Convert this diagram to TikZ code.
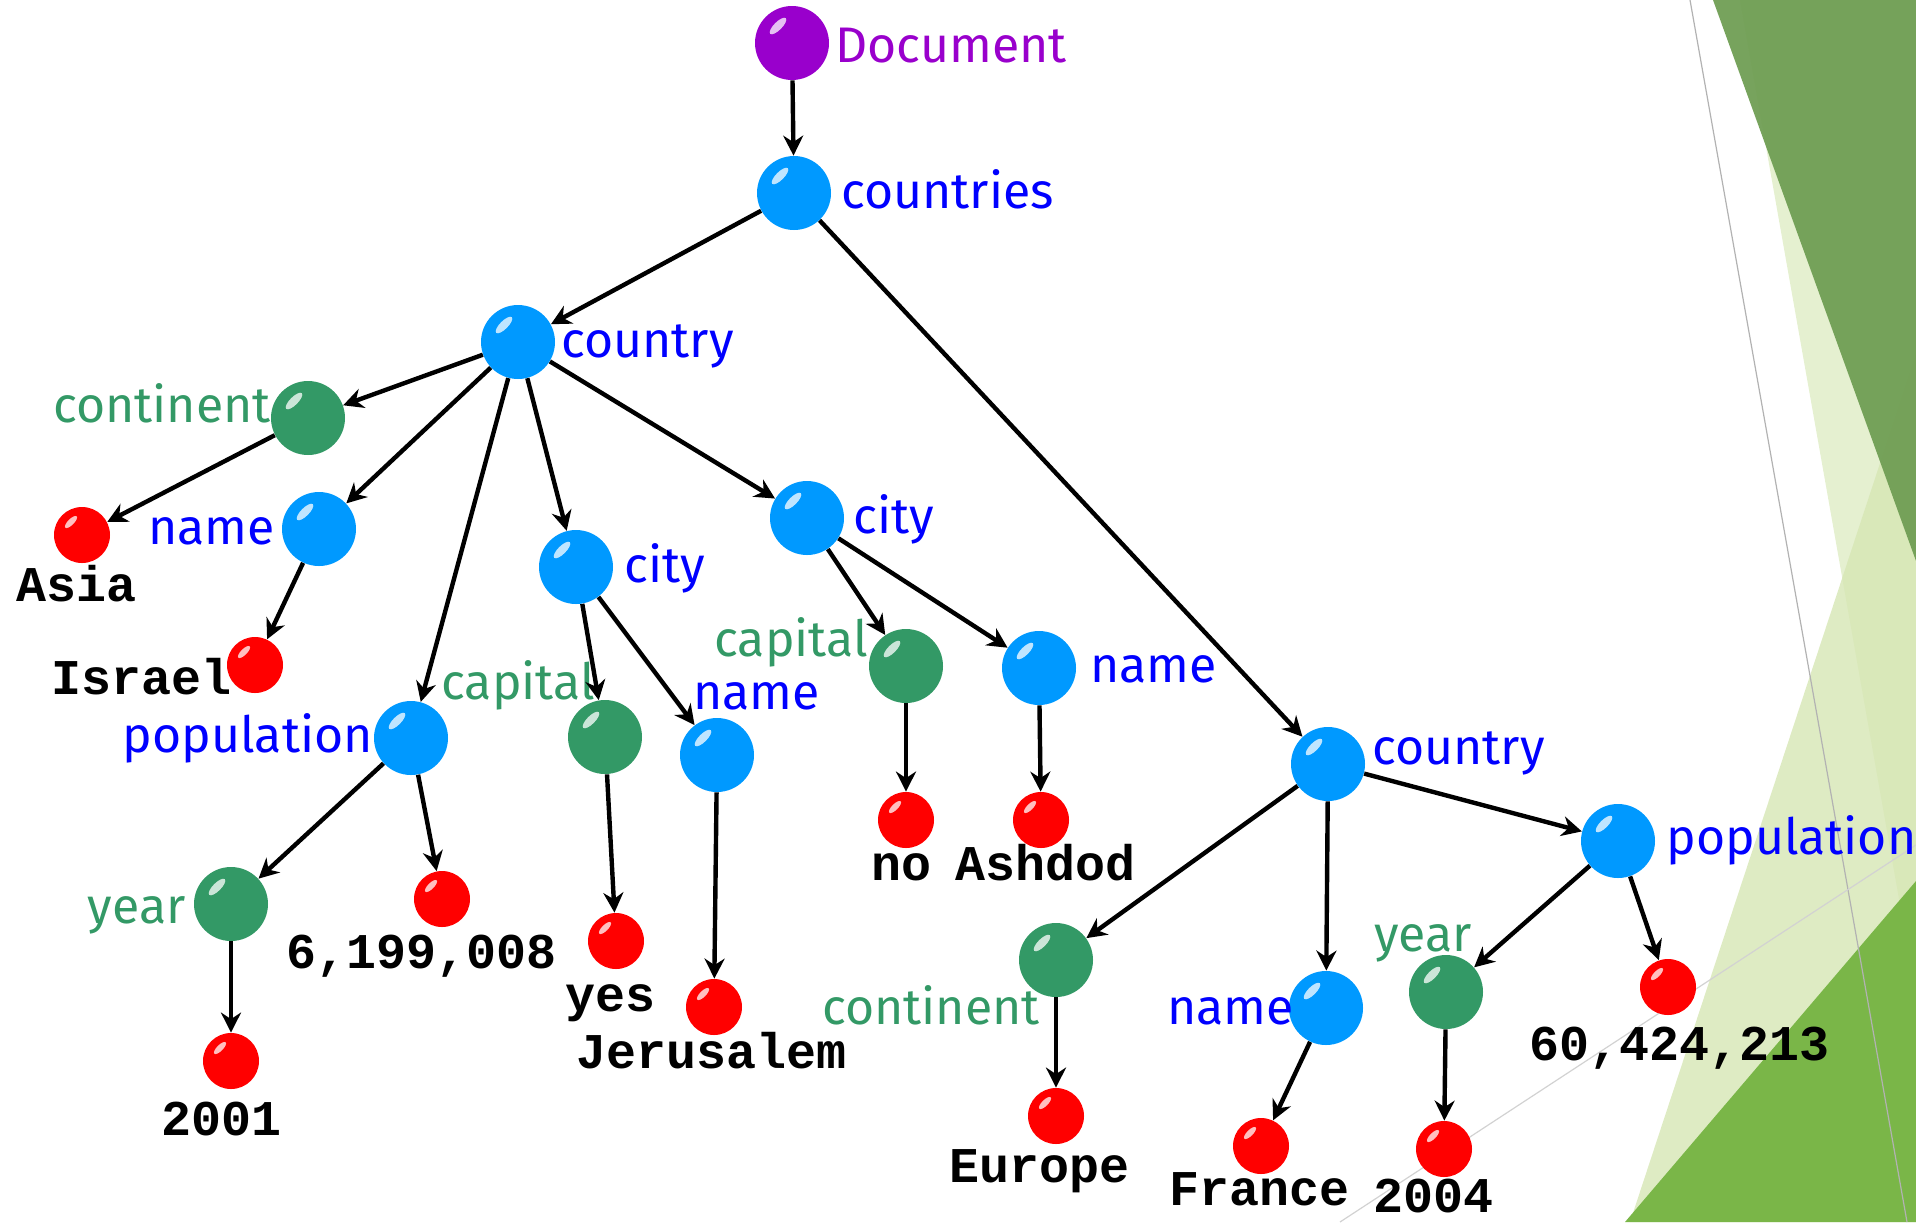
\documentclass[tikz,border=0pt]{standalone}
\usepackage{fontspec}
\setmainfont{Fira Sans}
\newfontfamily\valfont{Liberation Mono}
\usetikzlibrary{arrows.meta}

\definecolor{ballblue}{RGB}{0,153,255}
\definecolor{ballgreen}{RGB}{51,153,102}
\definecolor{ballred}{RGB}{255,0,0}
\definecolor{ballpurple}{RGB}{153,0,204}
\definecolor{txtblue}{RGB}{0,0,255}
\definecolor{leafdark}{RGB}{112,158,84}
\definecolor{leafpale}{RGB}{229,240,208}
\definecolor{leaflight}{RGB}{214,230,180}
\definecolor{leafbright}{RGB}{122,182,72}

\tikzstyle{ball}=[circle,inner sep=0pt,minimum size=37pt,
  path picture={\fill[white,opacity=.75] ([xshift=-7pt,yshift=8.5pt]path picture bounding box.center) circle[x radius=5.5pt,y radius=2pt,rotate=45];}]
\tikzstyle{dot}=[circle,inner sep=0pt,minimum size=28pt,fill=ballred,
  path picture={\fill[white,opacity=.75] ([xshift=-5.5pt,yshift=6.5pt]path picture bounding box.center) circle[x radius=4pt,y radius=1.5pt,rotate=45];}]
\tikzstyle{bluenode}=[ball,fill=ballblue]
\tikzstyle{greennode}=[ball,fill=ballgreen]
\tikzstyle{tag}=[font=\fontsize{25}{30}\selectfont,inner sep=0pt]
\tikzstyle{bluetag}=[tag,text=txtblue]
\tikzstyle{greentag}=[tag,text=ballgreen]
\tikzstyle{value}=[font=\valfont\bfseries\fontsize{25}{28}\selectfont,inner sep=0pt,anchor=base]
\tikzstyle{arr}=[-{Stealth[length=10pt,width=10pt]},line width=2.2pt]

\begin{document}
\begin{tikzpicture}[x=0.5pt,y=-0.5pt]
\useasboundingbox (0,0) rectangle (1916,1222);

% background leaves
\fill[leafpale] (1740,0) -- (1916,0) -- (1916,995) -- cycle;
\fill[leaflight,opacity=.8] (1630,1222) -- (1916,354) -- (1916,1222) -- cycle;
\fill[leafdark,opacity=.95] (1713,0) -- (1916,0) -- (1916,561) -- cycle;
\fill[leafbright] (1625,1222) -- (1916,881) -- (1916,1222) -- cycle;
\draw[gray!60,line width=0.6pt] (1690,0) -- (1907,1222);
\draw[gray!35,line width=0.6pt] (1340,1222) -- (1916,845);

% tree
\node[ball,fill=ballpurple] (doc) at (792,43) {};
\node[bluenode] (countries) at (794,193) {};
\node[bluenode] (country1) at (518,342) {};
\node[greennode] (cont1) at (308,418) {};
\node[dot] (asia) at (82,535) {};
\node[bluenode] (name1) at (319,529) {};
\node[dot] (israel) at (255,665) {};
\node[bluenode] (pop1) at (411,738) {};
\node[greennode] (year1) at (231,904) {};
\node[dot] (y2001) at (231,1061) {};
\node[dot] (num1) at (442,899) {};
\node[bluenode] (city1) at (576,567) {};
\node[greennode] (cap1) at (605,737) {};
\node[dot] (yes) at (616,941) {};
\node[bluenode] (name2) at (717,755) {};
\node[dot] (jerus) at (714,1007) {};
\node[bluenode] (city2) at (807,518) {};
\node[greennode] (cap2) at (906,666) {};
\node[dot] (no) at (906,820) {};
\node[bluenode] (name3) at (1039,668) {};
\node[dot] (ashdod) at (1041,820) {};
\node[bluenode] (country2) at (1328,764) {};
\node[greennode] (cont2) at (1056,960) {};
\node[dot] (europe) at (1056,1116) {};
\node[bluenode] (name4) at (1326,1008) {};
\node[dot] (france) at (1261,1146) {};
\node[bluenode] (pop2) at (1618,841) {};
\node[greennode] (year2) at (1446,992) {};
\node[dot] (y2004) at (1444,1149) {};
\node[dot] (num2) at (1668,987) {};

% element names
\node[tag,text=ballpurple,anchor=base west] (ldoc) at (835,62) {Document};
\node[bluetag,anchor=base west] (lcountries) at (841,208) {countries};
\node[bluetag,anchor=base west] (lcountry1) at (561,357) {country};
\node[greentag,anchor=base east] (lcont1) at (271,422) {continent};
\node[bluetag,anchor=base east] (lname1) at (275,544) {name};
\node[bluetag,anchor=base east] (lpop1) at (373,752) {population};
\node[greentag,anchor=base east] (lyear1) at (186,923) {year};
\node[greentag,anchor=base west] (lcap1) at (441,699) {capital};
\node[bluetag,anchor=base west] (lcity1) at (624,582) {city};
\node[bluetag,anchor=base west] (lname2) at (693,709) {name};
\node[bluetag,anchor=base west] (lcity2) at (853,533) {city};
\node[greentag,anchor=base west] (lcap2) at (714,656) {capital};
\node[bluetag,anchor=base west] (lname3) at (1090,682) {name};
\node[bluetag,anchor=base west] (lcountry2) at (1372,764) {country};
\node[bluetag,anchor=base west] (lpop2) at (1666,854) {population};
\node[greentag,anchor=base west] (lcont2) at (822,1024) {continent};
\node[bluetag,anchor=base west] (lname4) at (1167,1024) {name};
\node[greentag,anchor=base west] (lyear2) at (1374,951) {year};

% values
\node[value] (vasia) at (77,601) {Asia};
\node[value] (visrael) at (142,694) {Israel};
\node[value] (vnum1) at (422,968) {6,199,008};
\node[value] (v2001) at (222,1135) {2001};
\node[value] (vyes) at (610,1011) {yes};
\node[value] (vjerus) at (712,1068) {Jerusalem};
\node[value] (vno) at (901,880) {no};
\node[value] (vashdod) at (1046,880) {Ashdod};
\node[value] (veurope) at (1040,1182) {Europe};
\node[value] (vfrance) at (1259,1205) {France};
\node[value] (v2004) at (1433,1212) {2004};
\node[value] (vnum2) at (1680,1060) {60,424,213};

% connectors
\draw[arr] (doc) -- (countries);
\draw[arr] (countries) -- (country1);
\draw[arr] (countries) -- (country2);
\draw[arr] (country1) -- (cont1);
\draw[arr] (country1) -- (name1);
\draw[arr] (country1) -- (pop1);
\draw[arr] (country1) -- (city1);
\draw[arr] (country1) -- (city2);
\draw[arr] (cont1) -- (asia);
\draw[arr] (name1) -- (israel);
\draw[arr] (pop1) -- (year1);
\draw[arr] (pop1) -- (num1);
\draw[arr] (year1) -- (y2001);
\draw[arr] (city1) -- (cap1);
\draw[arr] (city1) -- (name2);
\draw[arr] (cap1) -- (yes);
\draw[arr] (name2) -- (jerus);
\draw[arr] (city2) -- (cap2);
\draw[arr] (city2) -- (name3);
\draw[arr] (cap2) -- (no);
\draw[arr] (name3) -- (ashdod);
\draw[arr] (country2) -- (cont2);
\draw[arr] (country2) -- (name4);
\draw[arr] (country2) -- (pop2);
\draw[arr] (cont2) -- (europe);
\draw[arr] (name4) -- (france);
\draw[arr] (pop2) -- (year2);
\draw[arr] (pop2) -- (num2);
\draw[arr] (year2) -- (y2004);
\end{tikzpicture}
\end{document}
